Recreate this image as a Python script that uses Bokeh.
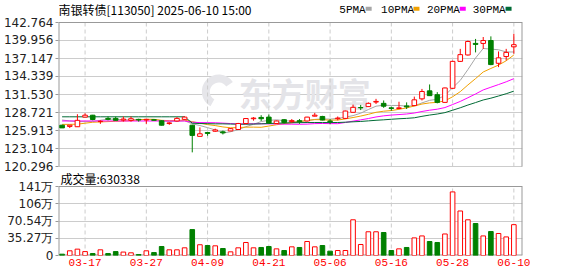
import numpy as np
from bokeh.plotting import figure
from bokeh.models import ColumnDataSource, FixedTicker, Range1d, PrintfTickFormatter
from bokeh.embed import file_html
from bokeh.resources import INLINE
from bokeh.core.properties import value

# ---------------- data ----------------
dates = ["03-12","03-13","03-14","03-17","03-18","03-19","03-20","03-21","03-24","03-25",
         "03-26","03-27","03-28","03-31","04-01","04-02","04-03","04-07","04-08","04-09",
         "04-10","04-11","04-14","04-15","04-16","04-17","04-18","04-21","04-22","04-23",
         "04-24","04-25","04-28","04-29","04-30","05-06","05-07","05-08","05-09","05-12",
         "05-13","05-14","05-15","05-16","05-19","05-20","05-21","05-22","05-23","05-26",
         "05-27","05-28","05-29","05-30","06-03","06-04","06-05","06-06","06-09","06-10"]

opens = [126.74,126.55,126.50,128.00,128.30,127.30,127.80,127.80,127.55,127.50,
         127.65,127.55,127.60,127.43,127.00,127.40,127.65,126.74,125.00,125.60,
         125.80,125.70,125.85,126.07,127.00,127.75,127.95,128.00,127.00,127.60,
         127.30,127.45,127.40,128.15,128.10,127.40,127.75,127.80,128.75,129.50,
         129.64,130.35,130.15,129.45,129.35,129.75,129.80,130.85,132.10,131.50,
         130.30,132.50,136.70,137.70,139.50,139.50,139.95,136.40,137.45,138.97]
highs = [126.80,126.75,128.45,128.60,128.35,127.50,128.10,128.10,128.10,128.10,
         127.75,127.75,127.65,127.50,127.20,128.00,128.10,126.80,126.40,125.70,
         126.20,125.90,126.30,127.10,127.80,128.00,128.30,128.40,127.45,127.70,
         127.70,127.70,128.05,128.66,128.20,127.70,128.10,129.00,129.95,129.90,
         130.30,130.85,130.60,129.64,130.40,130.30,131.20,132.40,133.10,131.90,
         132.60,136.80,138.65,139.95,140.20,140.50,140.60,138.25,138.65,141.00]
lows = [126.30,126.30,126.50,128.00,127.50,126.95,127.50,127.45,127.30,127.30,
        127.30,126.95,127.45,126.70,126.80,127.30,127.60,122.50,125.00,125.10,
        125.70,125.30,125.80,126.00,127.00,127.45,127.40,127.00,126.95,127.00,
        127.10,126.95,127.30,128.10,127.50,126.90,127.50,127.70,128.70,129.10,
        129.60,130.05,129.45,129.00,129.25,129.27,129.75,130.60,131.30,130.15,
        130.25,132.40,136.60,137.60,138.10,138.65,136.10,135.80,136.85,137.90]
closes = [126.32,126.74,127.50,128.30,127.63,127.35,127.65,127.50,127.70,127.75,
          127.55,127.65,127.50,126.74,127.10,127.80,128.00,125.15,125.40,125.45,
          126.00,125.55,126.20,127.00,127.78,127.85,127.75,127.10,127.40,127.15,
          127.45,127.30,128.00,128.30,127.55,127.30,127.85,128.95,129.53,129.45,
          130.15,130.45,129.70,129.35,129.45,129.60,130.70,132.00,131.35,130.30,
          132.55,136.70,137.75,139.80,139.35,139.95,136.20,137.25,138.10,139.30]
# volume in 万 (10k) units
volumes_wan = [2.7,9.6,13,8,4,11.6,4,8,7,5.5,
               2,9.6,6,18.4,11.6,11.6,15.7,53,22,20.4,
               19.8,14.3,7.5,15.7,26.6,15.7,16.4,18.4,13.6,10.2,
               17.7,16.4,28.6,17.7,20.4,8.9,10.2,10.2,73,22.5,
               48.5,48.5,47,10.2,13.6,16.4,36,40,28.6,26.6,
               44,130,91,73,65.4,40,49,45,38,63.0338]
# volume bar direction as drawn (1 = red hollow, 0 = green)
vol_up = [0,1,1,1,0,1,0,0,1,1, 0,1,0,0,1,1,1,0,1,0, 1,0,1,1,1,1,0,0,1,0,
          1,0,1,1,0,0,1,1,1,1, 1,1,0,0,1,0,1,1,0,0, 1,1,1,1,0,1,0,1,1,1]

# moving-average values read for days whose window reaches before the first shown day
ma5_lead = [127.55, 127.40, 127.30, 127.30]
ma10_lead = [126.87, 126.87, 126.90, 127.05, 127.20, 127.25, 127.30, 127.35, 127.40]
ma20_lead = [127.40, 127.40, 127.40, 127.40, 127.40, 127.40, 127.40, 127.40, 127.40, 127.40,
             127.40, 127.40, 127.40, 127.40, 127.40, 127.40, 127.40, 127.20, 127.15]
ma30_lead = [128.05, 128.05, 128.05, 128.05, 128.05, 128.05, 128.05, 128.05, 128.05, 128.05,
             128.05, 128.05, 128.05, 128.05, 128.05, 128.05, 128.05, 127.05, 127.00, 126.98,
             126.95, 126.95, 126.92, 126.90, 126.90, 126.92, 126.95, 127.00, 127.05]

date_ticks = ["03-17", "03-27", "04-09", "04-21", "05-06", "05-16", "05-28", "06-10"]
price_ticks = [120.296, 123.104, 125.913, 128.721, 131.530, 134.339, 137.147, 139.956, 142.764]
vol_ticks = [0, 352700, 705400, 1058100, 1410800]
vol_tick_labels = ["0", "35.27万", "70.54万", "106万", "141万"]

title_text = "南银转债[113050] 2025-06-10 15:00"
vol_title = "成交量:630338"
watermark = "东方财富"
ma_names = ["5PMA", "10PMA", "20PMA", "30PMA"]
ma_colors = ["#a6a6a6", "#f0a000", "#ff00ff", "#006a35"]

# ---------------- derived ----------------
n = len(dates)
idx = np.arange(n)
o = np.array(opens); c = np.array(closes); h = np.array(highs); l = np.array(lows)
up = c >= o
RED = "#ff0000"
GREEN = "#008000"
BORDER = "#999999"
GRID = "#cccccc"


def full_ma(lead, w):
    vals = list(lead)
    for i in range(len(lead), n):
        vals.append(float(np.mean(c[i - w + 1:i + 1])))
    return vals

mas = [full_ma(ma5_lead, 5), full_ma(ma10_lead, 10), full_ma(ma20_lead, 20), full_ma(ma30_lead, 30)]

# ---------------- layout geometry (one frame holding both panels) ----------------
W, H = 578, 276
LB, RB, BB = 56, 56, 21
FW, FH = W - LB - RB, H - BB           # frame: x 56..522, y 0..255
x0, x1 = -0.47, 60.13
P_TOP_PX, P_BOT_PX = 22, 166           # price panel
V_TOP_PX, V_BOT_PX = 186, 255          # volume panel
ppu = (P_BOT_PX - P_TOP_PX) / (price_ticks[-1] - price_ticks[0])
p_end = price_ticks[-1] + P_TOP_PX / ppu
p_start = p_end - FH / ppu
vpp = vol_ticks[-1] / (V_BOT_PX - V_TOP_PX)
v_end = vol_ticks[-1] + V_TOP_PX * vpp


def sx(px):
    return x0 + (px - LB) * (x1 - x0) / FW


def py(px):
    return p_end - px / ppu


def vol_as_price(v):
    return py(V_BOT_PX - v / vpp)

p = figure(width=W, height=H, x_range=Range1d(x0, x1), y_range=Range1d(p_start, p_end),
           output_backend="svg", toolbar_location=None,
           min_border_left=LB, min_border_right=RB, min_border_top=0, min_border_bottom=BB)
p.extra_y_ranges = {"vol": Range1d(0, v_end)}
p.outline_line_color = None
p.background_fill_color = "white"
p.border_fill_color = "white"

# left axis: price ticks for the upper panel, volume ticks for the lower panel
vol_tick_pos = [vol_as_price(v) for v in vol_ticks]
all_ticks = price_ticks + vol_tick_pos
ya = p.yaxis[0]
ya.ticker = FixedTicker(ticks=all_ticks)
ya.formatter = PrintfTickFormatter(format="%.3f")
ya.major_label_overrides = {t: s for t, s in zip(vol_tick_pos, vol_tick_labels)}
ya.axis_line_color = None
ya.major_tick_line_color = BORDER
ya.major_tick_out = 3
ya.major_tick_in = 0
ya.minor_tick_line_color = None
ya.major_label_text_font = "DejaVu Sans"
ya.major_label_text_font_size = "12px"
ya.major_label_text_color = "#222222"
ya.major_label_standoff = 2
p.ygrid.ticker = FixedTicker(ticks=all_ticks)
p.ygrid.grid_line_color = GRID
p.xgrid.visible = False

tick_idx = [dates.index(d) for d in date_ticks]
xa = p.xaxis[0]
xa.ticker = FixedTicker(ticks=tick_idx)
xa.major_label_overrides = {t: d for t, d in zip(tick_idx, date_ticks)}
xa.axis_line_color = None
xa.major_tick_line_color = None
xa.major_tick_out = 0
xa.major_tick_in = 0
xa.minor_tick_line_color = None
xa.major_label_text_font = "Liberation Mono"
xa.major_label_text_font_size = "11px"
xa.major_label_text_color = "#ff0000"
xa.major_label_standoff = 3

# watermark (logo + name)
p.annular_wedge(x=[sx(217)], y=[py(91)], inner_radius=9, outer_radius=17,
                inner_radius_units="screen", outer_radius_units="screen",
                start_angle=0.6, end_angle=4.2, fill_color="#e6e6ea", line_color=None)
p.text(x=[sx(237)], y=[py(92)], text=[watermark], text_font=value("Noto Sans CJK SC"),
       text_font_style="bold", text_font_size="33px", text_color="#e4e4e8",
       text_baseline="middle", text_align="left")

# price panel: dashed vertical grid and borders
nt = len(tick_idx)
p.segment(x0=tick_idx, y0=[price_ticks[0]] * nt, x1=tick_idx, y1=[price_ticks[-1]] * nt,
          line_color=GRID, line_dash="4 3", line_width=1)
p.segment(x0=[x0, x1, x0], y0=[price_ticks[-1], price_ticks[0], price_ticks[0]],
          x1=[x1, x1, x0], y1=[price_ticks[-1], price_ticks[-1], price_ticks[-1]],
          line_color=BORDER, line_width=[1, 2, 2])

for ma, col in zip(mas, ma_colors):
    p.line(idx, ma, line_color=col, line_width=1)

src = ColumnDataSource(dict(x=idx, h=h, l=l,
                            top=np.maximum(o, c), bot=np.minimum(o, c),
                            col=[RED if u else GREEN for u in up],
                            fill=["white" if u else GREEN for u in up]))
p.segment(x0="x", y0="l", x1="x", y1="h", line_color="col", line_width=1, source=src)
p.vbar(x="x", top="top", bottom="bot", width=0.6, fill_color="fill", line_color="col",
       line_width=1, source=src)

# title and legend
p.text(x=[sx(56)], y=[py(0.3)], text=[title_text], text_font=value("Noto Sans CJK SC"),
       text_font_size="12px", text_color="#000000", text_baseline="top")
leg_x = [338, 380, 426, 472]
sq_x = [367.5, 415.5, 462, 508]
ly = py(9.3)
p.text(x=[sx(v) for v in leg_x], y=[ly] * 4, text=ma_names, text_font=value("Liberation Mono"),
       text_font_size="11px", text_color="#000000", text_baseline="middle")
p.rect(x=[sx(v) for v in sq_x], y=[py(8.3)] * 4, width=6, height=4, width_units="screen",
       height_units="screen", fill_color=ma_colors, line_color=None)

# volume panel
vol = np.array(volumes_wan) * 10000
p.segment(x0=tick_idx, y0=[0] * nt, x1=tick_idx, y1=[vol_ticks[-1]] * nt,
          line_color=GRID, line_dash="4 3", line_width=1, y_range_name="vol")
p.segment(x0=[x0, x1, x0, x0], y0=[vol_ticks[-1], 0, 0, 0],
          x1=[x1, x1, x0, x1], y1=[vol_ticks[-1], vol_ticks[-1], vol_ticks[-1], 0],
          line_color=BORDER, line_width=[1, 2, 2, 2], y_range_name="vol")

vsrc = ColumnDataSource(dict(x=idx, v=vol,
                             col=[RED if u else GREEN for u in vol_up],
                             fill=["white" if u else GREEN for u in vol_up]))
p.vbar(x="x", top="v", bottom=0, width=0.6, fill_color="fill", line_color="col",
       line_width=1, source=vsrc, y_range_name="vol")

p.text(x=[sx(58)], y=[py(169.5)], text=[vol_title],
       text_font=value("Noto Sans CJK SC"), text_font_size="12px", text_color="#000000",
       text_baseline="top")

open("out.html", "w").write(file_html(p, INLINE))
